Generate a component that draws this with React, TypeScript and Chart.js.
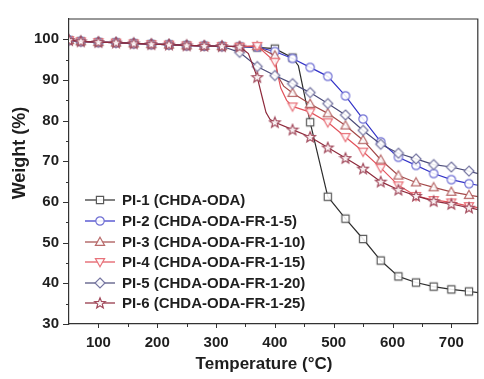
import React, { useEffect, useRef } from 'react';
import { Chart, registerables } from 'chart.js';

Chart.register(...registerables);

// ---- data ----
const markerTemps = [50, 70, 100, 130, 160, 190, 220, 250, 280, 310, 340, 370, 400, 430, 460, 490, 520, 550, 580, 610, 640, 670, 700, 730];

const xTicks = [100, 200, 300, 400, 500, 600, 700];
const yTicks = [30, 40, 50, 60, 70, 80, 90, 100];

const seriesNames = [
  'PI-1 (CHDA-ODA)',
  'PI-2 (CHDA-ODA-FR-1-5)',
  'PI-3 (CHDA-ODA-FR-1-10)',
  'PI-4 (CHDA-ODA-FR-1-15)',
  'PI-5 (CHDA-ODA-FR-1-20)',
  'PI-6 (CHDA-ODA-FR-1-25)',
];

const pi1Temps = [50, 70, 100, 130, 160, 190, 220, 250, 280, 310, 340, 370, 400, 430, 440, 460, 475, 490, 520, 550, 580, 610, 640, 670, 700, 730, 750];
const pi1Weights = [99.8, 99.5, 99.3, 99.2, 99.0, 98.8, 98.7, 98.5, 98.4, 98.3, 98.2, 98.0, 97.7, 95.5, 93.5, 79.6, 70.4, 61.3, 55.9, 50.9, 45.6, 41.7, 40.2, 39.2, 38.5, 38.0, 37.6];

const pi2Temps = [50, 70, 100, 130, 160, 190, 220, 250, 280, 310, 340, 370, 400, 430, 460, 490, 520, 550, 580, 610, 640, 670, 700, 730, 750];
const pi2Weights = [99.8, 99.5, 99.3, 99.2, 99.0, 98.8, 98.7, 98.5, 98.4, 98.3, 98.2, 98.1, 97.0, 95.3, 93.1, 90.9, 86.1, 80.4, 74.8, 71.0, 69.0, 67.0, 65.5, 64.5, 64.0];

const pi3Temps = [50, 70, 100, 130, 160, 190, 220, 250, 280, 310, 340, 370, 400, 405, 415, 430, 460, 490, 520, 550, 580, 610, 640, 670, 700, 730, 750];
const pi3Weights = [99.8, 99.5, 99.3, 99.2, 99.0, 98.8, 98.7, 98.5, 98.4, 98.3, 98.2, 98.3, 96.0, 91.0, 88.5, 86.8, 84.1, 81.8, 78.8, 75.2, 70.4, 66.5, 64.8, 63.6, 62.5, 61.7, 61.2];

const pi4Temps = [50, 70, 100, 130, 160, 190, 220, 250, 280, 310, 340, 370, 400, 410, 420, 430, 460, 490, 520, 550, 580, 610, 640, 670, 700, 730, 750];
const pi4Weights = [99.8, 99.5, 99.3, 99.2, 99.0, 98.8, 98.7, 98.5, 98.4, 98.3, 98.2, 98.4, 94.5, 88.0, 85.0, 83.5, 82.1, 79.6, 76.0, 72.4, 68.4, 64.1, 61.5, 60.5, 59.9, 59.0, 58.5];

const pi5Temps = [50, 70, 100, 130, 160, 190, 220, 250, 280, 310, 340, 370, 400, 430, 460, 490, 520, 550, 580, 610, 640, 670, 700, 730, 750];
const pi5Weights = [99.8, 99.5, 99.3, 99.2, 99.0, 98.8, 98.7, 98.5, 98.4, 98.3, 96.8, 93.3, 91.1, 89.1, 86.9, 84.2, 81.4, 77.6, 74.2, 72.0, 70.6, 69.2, 68.6, 67.6, 66.8];

const pi6Temps = [50, 70, 100, 130, 160, 190, 220, 250, 280, 310, 340, 355, 370, 378, 385, 392, 400, 430, 460, 490, 520, 550, 580, 610, 640, 670, 700, 730, 750];
const pi6Weights = [99.8, 99.5, 99.3, 99.2, 99.0, 98.8, 98.7, 98.5, 98.4, 98.3, 98.2, 96.5, 90.7, 86.0, 82.0, 80.3, 79.6, 77.8, 76.0, 73.4, 70.8, 68.2, 65.0, 63.0, 61.5, 60.2, 59.5, 58.6, 58.0];

// ---- styles ----
const lineColors = ['#2e2e2e', '#3535c8', '#a44a4a', '#e2535c', '#4c4c7a', '#8e2a3c'];
const markerColors = ['#5a5a5a', '#7070d4', '#b86a6a', '#e8727a', '#7676a2', '#a24a5c'];
const shapes = ['square', 'circle', 'triangle', 'invtriangle', 'diamond', 'star'];

function makeMarker(shape: string, color: string): HTMLCanvasElement {
  const s = 14;
  const c = document.createElement('canvas');
  c.width = s;
  c.height = s;
  const ctx = c.getContext('2d')!;
  const cx = s / 2;
  const cy = s / 2;
  ctx.beginPath();
  if (shape === 'square') {
    ctx.rect(cx - 3.6, cy - 3.6, 7.2, 7.2);
  } else if (shape === 'circle') {
    ctx.arc(cx, cy, 4.2, 0, Math.PI * 2);
  } else if (shape === 'triangle') {
    ctx.moveTo(cx, cy - 4.8);
    ctx.lineTo(cx + 4.6, cy + 3.4);
    ctx.lineTo(cx - 4.6, cy + 3.4);
    ctx.closePath();
  } else if (shape === 'invtriangle') {
    ctx.moveTo(cx, cy + 4.8);
    ctx.lineTo(cx + 4.6, cy - 3.4);
    ctx.lineTo(cx - 4.6, cy - 3.4);
    ctx.closePath();
  } else if (shape === 'diamond') {
    ctx.moveTo(cx, cy - 5);
    ctx.lineTo(cx + 5, cy);
    ctx.lineTo(cx, cy + 5);
    ctx.lineTo(cx - 5, cy);
    ctx.closePath();
  } else {
    const ro = 5.6;
    const ri = 2.4;
    for (let i = 0; i < 10; i++) {
      const r = i % 2 === 0 ? ro : ri;
      const a = -Math.PI / 2 + (i * Math.PI) / 5;
      const px = cx + r * Math.cos(a);
      const py = cy + 0.4 + r * Math.sin(a);
      if (i === 0) ctx.moveTo(px, py);
      else ctx.lineTo(px, py);
    }
    ctx.closePath();
  }
  ctx.fillStyle = 'rgba(255,255,255,0.9)';
  ctx.fill();
  ctx.lineWidth = 1.2;
  ctx.strokeStyle = color;
  ctx.stroke();
  return c;
}

const FONT = '"Liberation Sans", Arial, sans-serif';

export default function App() {
  const ref = useRef<HTMLCanvasElement | null>(null);

  useEffect(() => {
    document.body.style.margin = '0';
    const canvas = ref.current;
    if (!canvas) return;
    const markers = shapes.map((sh, i) => makeMarker(sh, markerColors[i]));
    const allTemps = [pi1Temps, pi2Temps, pi3Temps, pi4Temps, pi5Temps, pi6Temps];
    const allWeights = [pi1Weights, pi2Weights, pi3Weights, pi4Weights, pi5Weights, pi6Weights];
    const orders = [5, 4, 3, 2, 1, 0];

    const datasets = allTemps.map((temps, si) => ({
      label: seriesNames[si],
      data: temps.map((t, i) => ({ x: t, y: allWeights[si][i] })),
      borderColor: lineColors[si],
      backgroundColor: '#ffffff',
      borderWidth: 1.2,
      pointStyle: markers[si],
      pointRadius: (ctx: any) => (ctx.raw && markerTemps.includes(ctx.raw.x) ? 5 : 0),
      pointHoverRadius: 0,
      tension: 0,
      fill: false,
      order: orders[si],
    }));

    const decorations = {
      id: 'decorations',
      afterDraw(chart: any) {
        const ctx = chart.ctx as CanvasRenderingContext2D;
        const { left, right, top, bottom } = chart.chartArea;
        const xs = chart.scales.x;
        const ys = chart.scales.y;
        ctx.save();
        ctx.strokeStyle = '#333333';
        ctx.lineWidth = 1.2;
        // box top & right
        ctx.beginPath();
        ctx.moveTo(left, top);
        ctx.lineTo(right, top);
        ctx.lineTo(right, bottom);
        ctx.stroke();
        // y ticks
        ctx.lineWidth = 1;
        for (let v = 30; v <= 100; v += 5) {
          const y = Math.round(ys.getPixelForValue(v)) + 0.5;
          const len = v % 10 === 0 ? 6 : 3;
          ctx.beginPath();
          ctx.moveTo(left - len, y);
          ctx.lineTo(left, y);
          ctx.stroke();
        }
        // x ticks
        for (let v = 100; v <= 700; v += 50) {
          const x = Math.round(xs.getPixelForValue(v)) + 0.5;
          const len = v % 100 === 0 ? 4 : 3;
          ctx.beginPath();
          ctx.moveTo(x, bottom);
          ctx.lineTo(x, bottom + len);
          ctx.stroke();
        }
        // axis titles
        ctx.fillStyle = '#1e1e1e';
        ctx.font = `bold 17px ${FONT}`;
        ctx.textAlign = 'center';
        ctx.textBaseline = 'middle';
        ctx.fillText('Temperature (°C)', 264, 364);
        ctx.save();
        ctx.translate(20, 153);
        ctx.rotate(-Math.PI / 2);
        ctx.font = `bold 18px ${FONT}`;
        ctx.fillText('Weight (%)', 0, 0);
        ctx.restore();
        // legend
        const rows = [200, 221, 242, 262, 283, 303];
        ctx.font = `bold 15px ${FONT}`;
        ctx.textAlign = 'left';
        for (let i = 0; i < 6; i++) {
          const y = rows[i];
          ctx.strokeStyle = lineColors[i];
          ctx.lineWidth = 1.2;
          ctx.beginPath();
          ctx.moveTo(85, y);
          ctx.lineTo(115, y);
          ctx.stroke();
          ctx.drawImage(markers[i], 100 - 7, y - 7);
          ctx.fillStyle = '#1e1e1e';
          ctx.fillText(seriesNames[i], 122, y + 1);
        }
        ctx.restore();
      },
    };

    const chart = new Chart(canvas, {
      type: 'line',
      data: { datasets: datasets as any },
      options: {
        animation: false,
        responsive: false,
        devicePixelRatio: 1,
        events: [],
        layout: { padding: { top: 14, right: 1, left: 0, bottom: 0 } },
        plugins: { legend: { display: false }, tooltip: { enabled: false } },
        scales: {
          x: {
            type: 'linear',
            min: 50,
            max: 745,
            afterFit: (s: any) => {
              s.height = 55;
            },
            afterBuildTicks: (s: any) => {
              s.ticks = xTicks.map((v) => ({ value: v }));
            },
            ticks: {
              padding: 10,
              color: '#1e1e1e',
              font: { family: FONT, size: 15, weight: 'bold' },
              maxRotation: 0,
            },
            grid: { display: true, drawOnChartArea: false, drawTicks: false },
            border: { display: true, color: '#333333', width: 1.2 },
          },
          y: {
            type: 'linear',
            min: 30,
            max: 105,
            afterFit: (s: any) => {
              s.width = 69;
            },
            afterBuildTicks: (s: any) => {
              s.ticks = yTicks.map((v) => ({ value: v }));
            },
            ticks: {
              padding: 10,
              color: '#1e1e1e',
              font: { family: FONT, size: 15, weight: 'bold' },
            },
            grid: { display: true, drawOnChartArea: false, drawTicks: false },
            border: { display: true, color: '#333333', width: 1.2 },
          },
        },
      },
      plugins: [decorations],
    });
    return () => chart.destroy();
  }, []);

  return (
    <div style={{ width: 484, height: 379, background: '#ffffff' }}>
      <canvas ref={ref} width={484} height={379} style={{ display: 'block' }} />
    </div>
  );
}
